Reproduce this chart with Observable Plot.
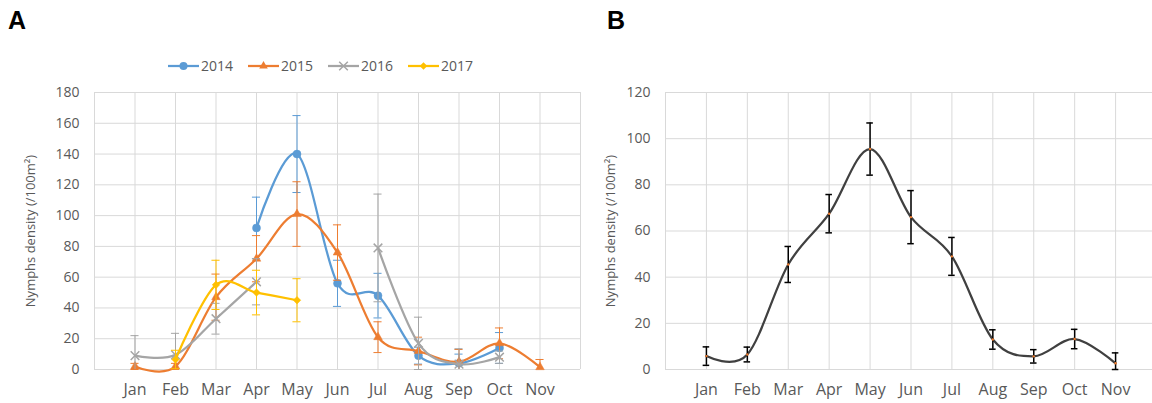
<!DOCTYPE html>
<html>
<head>
<meta charset="utf-8">
<script src="https://cdn.jsdelivr.net/npm/d3@7"></script>
<script src="https://cdn.jsdelivr.net/npm/@observablehq/plot@0.6"></script>
<style>
  html, body { margin: 0; padding: 0; background: #fff; overflow: hidden; }
  #wrap { position: relative; width: 1152px; height: 403px; overflow: hidden; font-family: "Open Sans", sans-serif; }
  .panel { position: absolute; font-family: "Liberation Sans", Arial, sans-serif; font-weight: bold; font-size: 25px; color: #000; }
  #chartA, #chartB { position: absolute; top: 0; }
  #chartA svg, #chartB svg { max-width: none !important; }
  #legend { position: absolute; top: 56px; left: 168px; display: flex; align-items: center; font-size: 14px; color: #595959; }
  .item { display: flex; align-items: center; margin-right: 15px; }
  .item svg { margin-right: 2px; }
</style>
</head>
<body>
<div id="wrap">
  <div class="panel" style="left:8px;top:6px">A</div>
  <div class="panel" style="left:607px;top:6px">B</div>
  <div id="chartA" style="left:0px;width:590px"></div>
  <div id="chartB" style="left:580px;width:600px"></div>
  <div id="legend"></div>
</div>
<script>
// ---- data ----
const months = ["Jan","Feb","Mar","Apr","May","Jun","Jul","Aug","Sep","Oct","Nov"];
const years = ["2014","2015","2016","2017"];
const colors = ["#5B9BD5","#ED7D31","#A5A5A5","#FFC000"];
const symbols = ["circle","triangle","times","diamond2"];

const v2014 = [null,null,null,92,140,56,48,9,4,14,null];
const e2014 = [null,null,null,20,25,15,14.5,5.5,6,10,null];
const v2015 = [2,2,47,72,101,76,21,12,5,17,1.5];
const e2015 = [2,2,15,15,21,18,10,9,8,10,5];
const v2016 = [9,9.5,33,57,null,null,79,17,3.5,8,null];
const e2016 = [13,14,10,15,null,null,35,17,10,4,null];
const v2017 = [null,6.5,55,50,45,null,null,null,null,null,null];
const e2017 = [null,6,16,14.5,14,null,null,null,null,null,null];

const bValues = [5.8,6.5,45.5,67.5,95.5,66,49,13,5.7,13.2,2.7];
const bErrors = [4,3.2,7.8,8.3,11.3,11.5,8.2,4.2,2.9,4.2,4.5];

const yTicksA = [0,20,40,60,80,100,120,140,160,180];
const yTicksB = [0,20,40,60,80,100,120];
const yLabel = "Nymphs density (/100m\u00B2)";

// ---- build tables ----
const seriesVals = [v2014, v2015, v2016, v2017];
const seriesErrs = [e2014, e2015, e2016, e2017];
const grid = "#D9D9D9";
const textColor = "#595959";
const xGrid = d3.range(0, 13);
const xTicks = d3.range(1, 12);

function rowsFor(i) {
  return months.map((m, j) => ({m: j + 1, v: seriesVals[i][j], e: seriesErrs[i][j]}));
}

const marksA = [
  Plot.gridX(xGrid, {stroke: grid, strokeOpacity: 1, strokeWidth: 1}),
  Plot.gridY(yTicksA, {stroke: grid, strokeOpacity: 1, strokeWidth: 1}),
  Plot.axisY(yTicksA, {tickSize: 0, tickPadding: 15, fontSize: 14, fill: textColor, label: null}),
  Plot.axisY({ticks: [], tickSize: 0, label: yLabel, labelAnchor: "center", labelArrow: "none", labelOffset: 69, fontSize: 13, fill: textColor}),
  Plot.axisX(xTicks, {tickSize: 0, tickPadding: 14, fontSize: 16, fill: textColor, tickFormat: d => months[d - 1], label: null})
];

years.forEach((yr, i) => {
  const rows = rowsFor(i);
  const pts = rows.filter(d => d.v != null);
  const c = colors[i];
  marksA.push(
    Plot.ruleX(pts, {x: "m", y1: d => d.v - d.e, y2: d => d.v + d.e, stroke: c, strokeWidth: 1, clip: true}),
    Plot.ruleY(pts, {y: d => d.v + d.e, x1: d => d.m - 0.1, x2: d => d.m + 0.1, stroke: c, strokeWidth: 1, clip: true}),
    Plot.ruleY(pts.filter(d => d.v - d.e >= 0), {y: d => d.v - d.e, x1: d => d.m - 0.1, x2: d => d.m + 0.1, stroke: c, strokeWidth: 1}),
    Plot.line(rows, {x: "m", y: "v", stroke: c, strokeWidth: 2.25, curve: "cardinal", tension: 0})
  );
  if (symbols[i] === "times") {
    marksA.push(Plot.dot(pts, {x: "m", y: "v", symbol: "times", r: 4, stroke: c, strokeWidth: 1.5}));
  } else {
    const r = symbols[i] === "circle" ? 4 : symbols[i] === "triangle" ? 3.2 : 3.4;
    marksA.push(Plot.dot(pts, {x: "m", y: "v", symbol: symbols[i], r, fill: c, stroke: c, strokeWidth: 0.5}));
  }
});

const chartA = Plot.plot({
  width: 590, height: 403,
  marginLeft: 94, marginRight: 10, marginTop: 92, marginBottom: 34,
  x: {domain: [0, 12], axis: null},
  y: {domain: [0, 180], axis: null},
  style: {fontFamily: "'Open Sans', sans-serif", color: textColor, background: "transparent", overflow: "visible", maxWidth: "none"},
  marks: marksA
});
document.getElementById("chartA").appendChild(chartA);

// ---- chart B ----
const rowsB = months.map((m, j) => ({m: j + 1, v: bValues[j], e: bErrors[j]}));
const chartB = Plot.plot({
  width: 600, height: 403,
  marginLeft: 85, marginRight: 24, marginTop: 92, marginBottom: 34,
  x: {domain: [0, 12], axis: null},
  y: {domain: [0, 120], axis: null},
  style: {fontFamily: "'Open Sans', sans-serif", color: textColor, background: "transparent", overflow: "visible", maxWidth: "none"},
  marks: [
    Plot.gridX(xGrid, {stroke: grid, strokeOpacity: 1, strokeWidth: 1}),
    Plot.gridY(yTicksB, {stroke: grid, strokeOpacity: 1, strokeWidth: 1}),
    Plot.axisY(yTicksB, {tickSize: 0, tickPadding: 15, fontSize: 14, fill: textColor, label: null}),
    Plot.axisY({ticks: [], tickSize: 0, label: yLabel, labelAnchor: "center", labelArrow: "none", labelOffset: 60, fontSize: 13, fill: textColor}),
    Plot.axisX(xTicks, {tickSize: 0, tickPadding: 14, fontSize: 16, fill: textColor, tickFormat: d => months[d - 1], label: null}),
    Plot.line(rowsB, {x: "m", y: "v", stroke: "#404040", strokeWidth: 2.25, curve: "cardinal", tension: 0}),
    Plot.ruleX(rowsB, {x: "m", y1: d => Math.max(0, d.v - d.e), y2: d => d.v + d.e, stroke: "#000", strokeWidth: 1.5}),
    Plot.ruleY(rowsB, {y: d => d.v + d.e, x1: d => d.m - 0.08, x2: d => d.m + 0.08, stroke: "#000", strokeWidth: 1.5}),
    Plot.ruleY(rowsB, {y: d => Math.max(0, d.v - d.e), x1: d => d.m - 0.08, x2: d => d.m + 0.08, stroke: "#000", strokeWidth: 1.5}),
    Plot.dot(rowsB, {x: "m", y: "v", r: 1.2, fill: "#ED7D31"})
  ]
});
document.getElementById("chartB").appendChild(chartB);

// ---- legend for A ----
const legend = d3.select("#legend");
years.forEach((yr, i) => {
  const item = legend.append("div").attr("class", "item");
  const svg = item.append("svg").attr("width", 31).attr("height", 14);
  svg.append("line").attr("x1", 0).attr("x2", 31).attr("y1", 7).attr("y2", 7)
    .attr("stroke", colors[i]).attr("stroke-width", 2.25);
  const sym = {circle: d3.symbolCircle, triangle: d3.symbolTriangle, times: d3.symbolTimes, diamond2: d3.symbolDiamond2}[symbols[i]];
  const r = symbols[i] === "circle" ? 4 : symbols[i] === "triangle" ? 3.2 : symbols[i] === "times" ? 4 : 3.4;
  const p = svg.append("path").attr("transform", "translate(15.5,7)")
    .attr("d", d3.symbol(sym, Math.PI * r * r)());
  if (symbols[i] === "times") p.attr("fill", "none").attr("stroke", colors[i]).attr("stroke-width", 1.5);
  else p.attr("fill", colors[i]);
  item.append("span").text(yr);
});
</script>
</body>
</html>
